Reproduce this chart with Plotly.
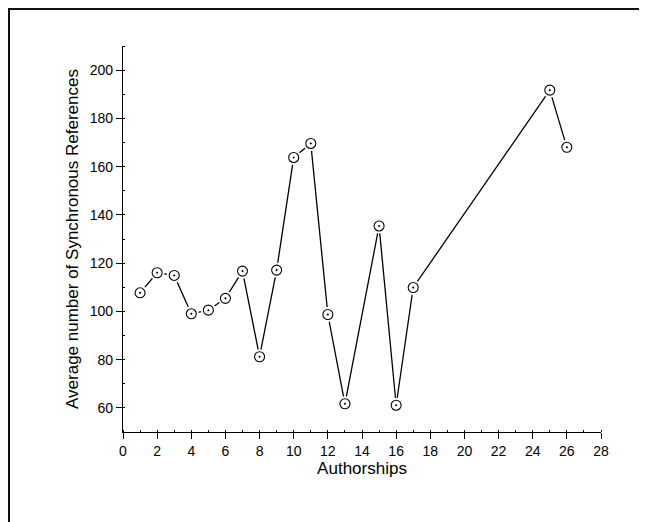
import plotly.graph_objects as go

authorships = [1, 2, 3, 4, 5, 6, 7, 8, 9, 10, 11, 12, 13, 15, 16, 17, 25, 26]
avg_sync_refs = [107.7, 116.0, 114.9, 99.0, 100.5, 105.4, 116.7, 81.2, 117.1,
                 163.8, 169.6, 98.7, 61.7, 135.4, 61.1, 109.9, 191.7, 168.0]

x_ticks = list(range(0, 29, 2))
y_ticks = [60, 80, 100, 120, 140, 160, 180, 200]

font_family = "Liberation Sans, Arial, Helvetica, sans-serif"

fig = go.Figure()
# connecting line
fig.add_trace(go.Scatter(x=authorships, y=avg_sync_refs, mode="lines",
                         line=dict(color="black", width=1.3),
                         hoverinfo="skip", showlegend=False))
# white halo to create gaps between line and markers
fig.add_trace(go.Scatter(x=authorships, y=avg_sync_refs, mode="markers",
                         marker=dict(symbol="circle", size=15, color="white",
                                     line=dict(width=0)),
                         hoverinfo="skip", showlegend=False))
# visible markers
fig.add_trace(go.Scatter(x=authorships, y=avg_sync_refs, mode="markers",
                         marker=dict(symbol="circle-dot", size=10, color="white",
                                     line=dict(color="black", width=1.1)),
                         showlegend=False))

axis_common = dict(
    showgrid=False, zeroline=False, showline=True, linecolor="black", linewidth=1.3,
    ticks="outside", ticklen=6, tickwidth=1.2, tickcolor="black",
    tickfont=dict(family=font_family, size=14, color="black"),
    mirror=False,
)

fig.update_xaxes(**axis_common, range=[0, 28], tickvals=x_ticks,
                 minor=dict(dtick=1, ticks="inside", ticklen=2, tickcolor="black", tickwidth=1),
                 title=dict(text="Authorships", font=dict(family=font_family, size=17, color="black"),
                            standoff=2))
fig.update_yaxes(**axis_common, range=[50, 210], tickvals=y_ticks,
                 minor=dict(dtick=10, ticks="inside", ticklen=2, tickcolor="black", tickwidth=1),
                 title=dict(text="Average number of Synchronous References",
                            font=dict(family=font_family, size=17, color="black"),
                            standoff=6))

fig.update_layout(
    width=639, height=514,
    margin=dict(l=115, r=46, t=38, b=90, autoexpand=False),
    plot_bgcolor="white", paper_bgcolor="white",
    shapes=[dict(type="rect", xref="paper", yref="paper",
                 x0=-0.2385, x1=1.15, y0=-0.3, y1=1.0959,
                 line=dict(color="#111111", width=2), fillcolor="rgba(0,0,0,0)",
                 layer="below")],
)

fig.write_html("out.html")
